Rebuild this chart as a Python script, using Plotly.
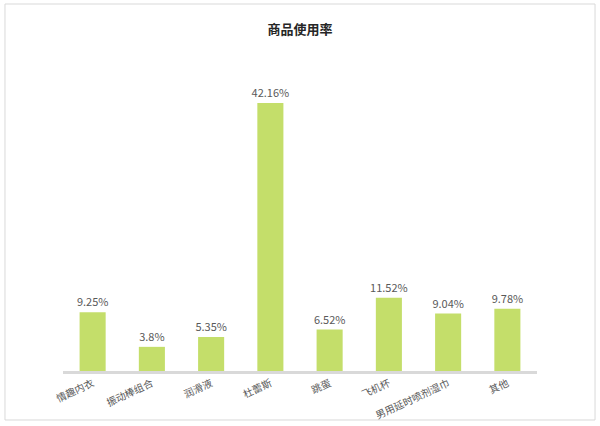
import plotly.graph_objects as go

# 商品使用率 data
categories = ["情趣内衣", "振动棒组合", "润滑液", "杜蕾斯", "跳蛋", "飞机杯", "男用延时喷剂湿巾", "其他"]
usage_rate = [9.25, 3.8, 5.35, 42.16, 6.52, 11.52, 9.04, 9.78]
rate_labels = ["9.25%", "3.8%", "5.35%", "42.16%", "6.52%", "11.52%", "9.04%", "9.78%"]

font_cjk = "Noto Sans CJK SC"

fig = go.Figure()
fig.add_trace(go.Bar(
    x=categories,
    y=usage_rate,
    text=rate_labels,
    textposition="outside",
    constraintext="none",
    textfont=dict(family=font_cjk, size=11, color="#595959"),
    marker=dict(color="#c4de6a", line=dict(width=0)),
    cliponaxis=False,
    hoverinfo="x+y",
))

fig.update_layout(
    width=600, height=426,
    margin=dict(l=63, r=63, t=85, b=55),
    paper_bgcolor="white",
    plot_bgcolor="white",
    bargap=0.56,
    showlegend=False,
    uniformtext=dict(minsize=11, mode="show"),
    title=dict(text="<b>商品使用率</b>", x=0.5, xanchor="center", y=0.93, yanchor="middle",
               font=dict(family=font_cjk, size=13, color="#262626")),
    xaxis=dict(
        showline=True, linecolor="#d9d9d9", linewidth=3,
        ticks="", tickangle=-25, automargin=False,
        tickfont=dict(family=font_cjk, size=10, color="#595959"),
        showgrid=False, zeroline=False,
    ),
    yaxis=dict(range=[0, 45], visible=False, showgrid=False, zeroline=False, automargin=False),
    # light frame round the whole picture
    shapes=[dict(type="rect", xref="paper", yref="paper",
                 x0=-0.1224, x1=1.1224, y0=-0.1713, y1=1.2832,
                 line=dict(color="#d9d9d9", width=1), fillcolor="rgba(0,0,0,0)", layer="below")],
)

# drop the browser's default body margin so the figure sits at the page corner
fig.write_html("out.html", config={"displayModeBar": False},
               post_script="document.body.style.margin='0';")
